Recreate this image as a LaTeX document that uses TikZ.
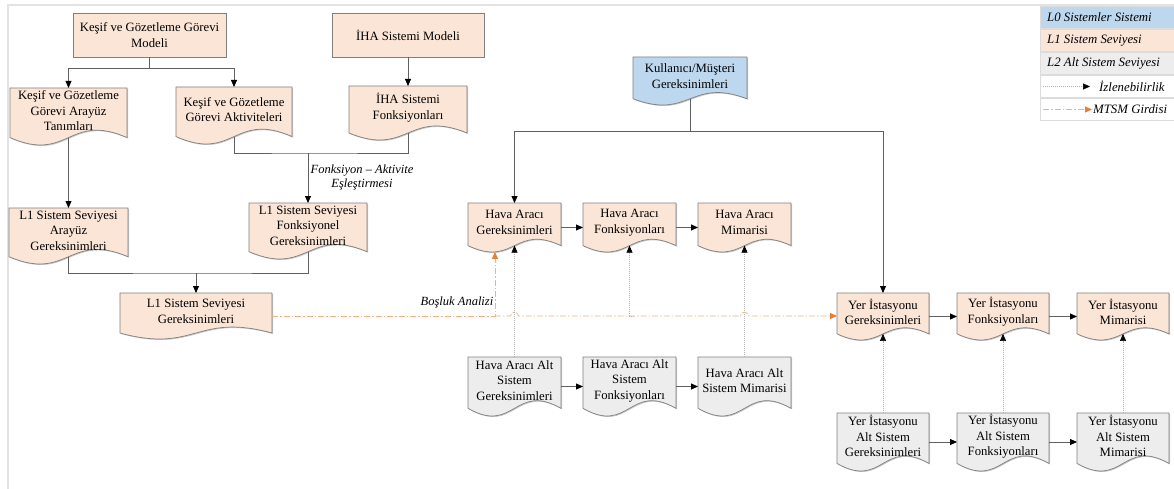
\documentclass[tikz,border=0pt]{standalone}
\usepackage{fontspec}
\setmainfont{Liberation Serif}
\usetikzlibrary{arrows.meta,shadows}

\definecolor{lzero}{HTML}{BDD7EE}
\definecolor{lone}{HTML}{FBE5D6}
\definecolor{ltwo}{HTML}{EDEDED}
\definecolor{edge}{HTML}{808080}
\definecolor{wirec}{HTML}{606060}
\definecolor{tracec}{HTML}{B4B4B4}
\definecolor{gapline}{HTML}{F4B183}
\definecolor{gaphead}{HTML}{ED7D31}
\definecolor{framec}{HTML}{E3E3E3}
\definecolor{legline}{HTML}{DCDCDC}

\newcommand\nodefnt{\fontsize{12.7pt}{15.5pt}\selectfont}
\newcommand\labfnt{\fontsize{12.5pt}{14pt}\selectfont\itshape}
\newcommand\legfnt{\fontsize{12.8pt}{14pt}\selectfont\itshape}

% Flowchart "document" shape: the node rectangle is the text area,
% the sides run a little lower and end in a wavy lower edge.
\makeatletter
\pgfdeclareshape{docwave}{%
  \inheritsavedanchors[from=rectangle]%
  \inheritanchorborder[from=rectangle]%
  \inheritanchor[from=rectangle]{center}%
  \inheritanchor[from=rectangle]{mid}%
  \inheritanchor[from=rectangle]{base}%
  \inheritanchor[from=rectangle]{north}%
  \inheritanchor[from=rectangle]{south}%
  \inheritanchor[from=rectangle]{east}%
  \inheritanchor[from=rectangle]{west}%
  \inheritanchor[from=rectangle]{north east}%
  \inheritanchor[from=rectangle]{north west}%
  \inheritanchor[from=rectangle]{south east}%
  \inheritanchor[from=rectangle]{south west}%
  % middle of the wavy lower edge
  \anchor{wave}{%
    \southwest \pgf@xa=\pgf@x \pgf@ya=\pgf@y
    \northeast \pgf@xb=\pgf@x \pgf@yb=\pgf@y
    \pgf@x=.5\pgf@xa \advance\pgf@x by .5\pgf@xb
    \pgf@y=\pgf@yb \advance\pgf@y by -\pgf@ya
    \pgf@y=-.0875\pgf@y \advance\pgf@y by \pgf@ya
  }%
  % lowest part of the wave, left of the middle
  \anchor{trough}{%
    \southwest \pgf@xa=\pgf@x \pgf@ya=\pgf@y
    \northeast \pgf@xb=\pgf@x \pgf@yb=\pgf@y
    \pgf@x=.71\pgf@xa \advance\pgf@x by .29\pgf@xb
    \pgf@y=\pgf@yb \advance\pgf@y by -\pgf@ya
    \pgf@y=-.247\pgf@y \advance\pgf@y by \pgf@ya
  }%
  % sides at half of the full height
  \anchor{half east}{%
    \southwest \pgf@ya=\pgf@y
    \northeast \pgf@xb=\pgf@x \pgf@yb=\pgf@y
    \pgf@y=\pgf@yb \advance\pgf@y by -\pgf@ya
    \pgf@y=-.625\pgf@y \advance\pgf@y by \pgf@yb
    \pgf@x=\pgf@xb
  }%
  \anchor{half west}{%
    \southwest \pgf@xa=\pgf@x \pgf@ya=\pgf@y
    \northeast \pgf@yb=\pgf@y
    \pgf@y=\pgf@yb \advance\pgf@y by -\pgf@ya
    \pgf@y=-.625\pgf@y \advance\pgf@y by \pgf@yb
    \pgf@x=\pgf@xa
  }%
  \backgroundpath{%
    \southwest \pgf@xa=\pgf@x \pgf@ya=\pgf@y
    \northeast \pgf@xb=\pgf@x \pgf@yb=\pgf@y
    \pgf@xc=.5\pgf@xa \advance\pgf@xc by .5\pgf@xb
    \pgf@yc=\pgf@yb \advance\pgf@yc by -\pgf@ya
    \edef\dw@l{\the\pgf@xa}\edef\dw@r{\the\pgf@xb}\edef\dw@m{\the\pgf@xc}%
    \edef\dw@t{\the\pgf@yb}%
    \pgf@y=-.0875\pgf@yc \advance\pgf@y by \pgf@ya \edef\dw@s{\the\pgf@y}%
    \pgf@y=.5625\pgf@yc \edef\dw@c{\the\pgf@y}%
    \pgf@y=\dw@s \advance\pgf@y by -\dw@c \edef\dw@lo{\the\pgf@y}%
    \pgf@y=\dw@s \advance\pgf@y by \dw@c \edef\dw@hi{\the\pgf@y}%
    \pgfpathmoveto{\pgfqpoint{\dw@l}{\dw@t}}%
    \pgfpathlineto{\pgfqpoint{\dw@r}{\dw@t}}%
    \pgfpathlineto{\pgfqpoint{\dw@r}{\dw@s}}%
    \pgfpathcurveto{\pgfqpoint{\dw@m}{\dw@hi}}{\pgfqpoint{\dw@m}{\dw@lo}}{\pgfqpoint{\dw@l}{\dw@s}}%
    \pgfpathclose
  }%
}
\makeatother

\begin{document}
\begin{tikzpicture}[x=1pt,y=-1pt,
  box/.style={draw=edge, line width=.7pt, inner sep=0pt, outer sep=0pt,
    align=center, font=\nodefnt, anchor=north west,
    drop shadow={shadow xshift=1pt, shadow yshift=-1pt, opacity=.22, fill=black}},
  rectbox/.style 2 args={box, shape=rectangle, minimum width=#1pt, minimum height=#2pt},
  docbox/.style 2 args={box, shape=docwave, minimum width=#1pt, minimum height={0.8*#2pt}},
  wire/.style={draw=wirec, line width=.8pt, -{Triangle[length=7pt,width=6pt,color=black]}},
  wireline/.style={draw=wirec, line width=.8pt},
  trace/.style={draw=tracec, line width=.6pt, dash pattern=on .8pt off 1.2pt,
    -{Triangle[length=7pt,width=6pt,color=black]}},
  gap/.style={draw=gapline, line width=.8pt, dash pattern=on 6pt off 2pt on 1.5pt off 2pt,
    -{Triangle[length=7pt,width=6pt,color=gaphead]}},
  lbl/.style={font=\labfnt, align=center, inner sep=1pt},
  legrow/.style={anchor=north west, minimum width=134pt, minimum height=22.4pt,
    inner sep=0pt, draw=legline, line width=.6pt},
  legtext/.style={font=\legfnt, inner sep=0pt, anchor=west}]

\useasboundingbox (0,0) rectangle (1174,489);

% page frame
\draw[framec, line width=1.5pt] (8,489) -- (8,5) -- (1174,5);

% ---- mission and system models
\node[rectbox={153}{44}, fill=lone] (kgm) at (73,13) {Keşif ve Gözetleme Görevi\\Modeli};
\node[rectbox={152}{44}, fill=lone] (iham) at (332,13) {İHA Sistemi Modeli};
\node[docbox={117}{57}, fill=lone] (kgat) at (10,88) {Keşif ve Gözetleme\\Görevi Arayüz\\Tanımları};
\node[docbox={116}{57}, fill=lone] (kga) at (176,87) {Keşif ve Gözetleme\\Görevi Aktiviteleri};
\node[docbox={118}{54}, fill=lone] (ihaf) at (349,86) {İHA Sistemi\\Fonksiyonları};
\node[docbox={119}{56}, fill=lone] (l1a) at (9,208) {L1 Sistem Seviyesi\\Arayüz\\Gereksinimleri};
\node[docbox={118}{56}, fill=lone] (l1f) at (249,203) {L1 Sistem Seviyesi\\Fonksiyonel\\Gereksinimleri};
\node[docbox={152}{46}, fill=lone] (l1g) at (120,293) {L1 Sistem Seviyesi\\Gereksinimleri};

% ---- user needs
\node[docbox={114}{48}, fill=lzero] (kmg) at (633,57) {Kullanıcı/Müşteri\\Gereksinimleri};

% ---- air vehicle
\node[docbox={93}{49}, fill=lone] (hag) at (468,203) {Hava Aracı\\Gereksinimleri};
\node[docbox={93}{49}, fill=lone] (haf) at (583,203) {Hava Aracı\\Fonksiyonları};
\node[docbox={93}{49}, fill=lone] (ham) at (698,203) {Hava Aracı\\Mimarisi};
\node[docbox={93}{59}, fill=ltwo] (haag) at (468,357) {Hava Aracı Alt\\Sistem\\Gereksinimleri};
\node[docbox={93}{59}, fill=ltwo] (haaf) at (583,357) {Hava Aracı Alt\\Sistem\\Fonksiyonları};
\node[docbox={93}{59}, fill=ltwo] (haam) at (698,357) {Hava Aracı Alt\\Sistem Mimarisi};

% ---- ground station
\node[docbox={92}{47}, fill=lone] (yig) at (837,293) {Yer İstasyonu\\Gereksinimleri};
\node[docbox={92}{47}, fill=lone] (yif) at (957,293) {Yer İstasyonu\\Fonksiyonları};
\node[docbox={92}{47}, fill=lone] (yim) at (1077,293) {Yer İstasyonu\\Mimarisi};
\node[docbox={92}{58}, fill=ltwo] (yiag) at (837,413) {Yer İstasyonu\\Alt Sistem\\Gereksinimleri};
\node[docbox={92}{58}, fill=ltwo] (yiaf) at (957,413) {Yer İstasyonu\\Alt Sistem\\Fonksiyonları};
\node[docbox={92}{58}, fill=ltwo] (yiam) at (1077,413) {Yer İstasyonu\\Alt Sistem\\Mimarisi};

% ---- labels
\node[lbl] (fa) at (362,177) {Fonksiyon – Aktivite\\Eşleştirmesi};
\node[lbl] (ba) at (457,302) {Boşluk Analizi};

% ---- tree connectors
\path (kgm.south) ++(0,11) coordinate (j1);
\draw[wireline] (kgm.south) -- (j1);
\draw[wire] (j1) -| (kgat.north);
\draw[wire] (j1) -| (kga.north);
\draw[wire] (iham.south) -- (ihaf.north);
\draw[wire] (kgat.wave) -- (l1a.north);

\path (l1f.north) ++(0,-50) coordinate (j2);
\draw[wireline] (kga.wave) |- (j2) -| (ihaf.wave);
\draw[wire] (j2) -- (l1f.north);

\path (l1g.north) ++(0,-20) coordinate (j3);
\draw[wireline] (l1a.wave) |- (j3) -| (l1f.wave);
\draw[wire] (j3) -- (l1g.north);

\path (kmg.wave) ++(0,33) coordinate (j4);
\draw[wireline] (kmg.wave) -- (j4);
\draw[wire] (j4) -| (hag.north);
\draw[wire] (j4) -| (yig.north);

% ---- flow along each row
\draw[wire] (hag.half east) -- (haf.half west);
\draw[wire] (haf.half east) -- (ham.half west);
\draw[wire] (haag.half east) -- (haaf.half west);
\draw[wire] (haaf.half east) -- (haam.half west);
\draw[wire] (yig.half east) -- (yif.half west);
\draw[wire] (yif.half east) -- (yim.half west);
\draw[wire] (yiag.half east) -- (yiaf.half west);
\draw[wire] (yiaf.half east) -- (yiam.half west);

% ---- traceability
\coordinate (g1) at (hag.trough |- l1g.half east);
\path (haf.wave |- g1) ++(4,0) coordinate (t1);
\draw[trace] (haag.north) -- (hag.wave);
\draw[trace] (t1) -| (haf.wave);
\draw[trace] (haam.north) -- (ham.wave);
\draw[trace] (yiag.north) -- (yig.wave);
\draw[trace] (yiaf.north) -- (yif.wave);
\draw[trace] (yiam.north) -- (yim.wave);

% ---- gap analysis input, hopping over the trace lines
\coordinate (x1) at (hag.wave |- g1);
\coordinate (x2) at (ham.wave |- g1);
\draw[gap] (l1g.half east) -- (g1) -- (hag.trough);
\draw[gap] (g1) -- ([xshift=-4pt]x1)
  .. controls ([xshift=-4pt,yshift=5pt]x1) and ([xshift=4pt,yshift=5pt]x1) .. ([xshift=4pt]x1)
  -- ([xshift=-4pt]x2)
  .. controls ([xshift=-4pt,yshift=5pt]x2) and ([xshift=4pt,yshift=5pt]x2) .. ([xshift=4pt]x2)
  -- (g1 -| yig.west);

% ---- legend
\node[legrow, fill=lzero] (lg0) at (1040,6) {};
\node[legrow, fill=lone] (lg1) at (lg0.south west) {};
\node[legrow, fill=ltwo] (lg2) at (lg1.south west) {};
\node[legrow] (lg3) at (lg2.south west) {};
\node[legrow] (lg4) at (lg3.south west) {};
\node[legtext] (lt0) at ([xshift=7pt]lg0.west) {L0 Sistemler Sistemi};
\node[legtext] (lt1) at ([xshift=7pt]lg1.west) {L1 Sistem Seviyesi};
\node[legtext] (lt2) at ([xshift=7pt]lg2.west) {L2 Alt Sistem Seviyesi};
\coordinate (s3a) at ([xshift=3pt]lg3.west);
\coordinate (s3b) at ([xshift=50pt]lg3.west);
\draw[trace] (s3a) -- (s3b);
\node[legtext] (lt3) at ([xshift=59pt]lg3.west) {İzlenebilirlik};
\coordinate (s4a) at ([xshift=3pt]lg4.west);
\coordinate (s4b) at ([xshift=52pt]lg4.west);
\draw[gap] (s4a) -- (s4b);
\node[legtext] (lt4) at ([xshift=53pt]lg4.west) {MTSM Girdisi};
\end{tikzpicture}
\end{document}
